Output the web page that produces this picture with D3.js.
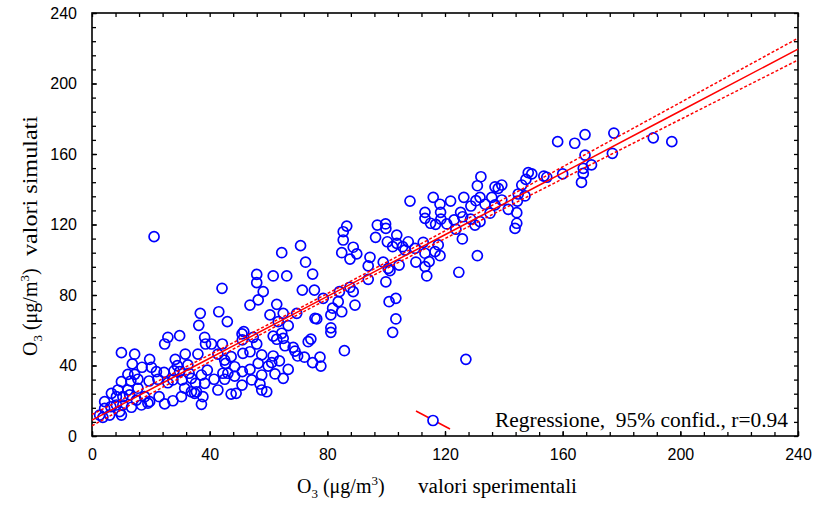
<!DOCTYPE html>
<html>
<head>
<meta charset="utf-8">
<script src="https://cdn.jsdelivr.net/npm/d3@7"></script>
<style>
  body { margin: 0; background: #fff; }
</style>
</head>
<body>
<div id="chart"></div>
<script>

const xTicks = [0, 40, 80, 120, 160, 200, 240]
const yTicks = [0, 40, 80, 120, 160, 200, 240]

// regression line and 95% band, read at the major ticks
const fitX = [0, 40, 80, 120, 160, 200, 240]
const fitY = [9.0, 44.1, 79.2, 114.2, 149.3, 184.4, 219.5]
const bandUpper = [12.2, 46.1, 80.8, 116.4, 152.7, 189.2, 225.7]
const bandLower = [5.8, 42.1, 77.6, 112.0, 145.9, 179.6, 213.3]

const legendText = "Regressione,\u00a0 95% confid., r=0.94"
const xTitle = "valori sperimentali"
const yTitle = "valori simulati"

// [valori sperimentali, valori simulati]
const points = [
  [10.0,47.3],[14.5,46.4],[24.7,52.2],[25.8,56.0],[29.8,56.9],[38.3,56.0],[38.6,52.2],[40.6,52.2],
  [44.3,52.2],[31.7,46.5],[36.0,46.5],[42.8,46.5],[51.0,57.9],[51.1,54.5],[45.1,43.1],[45.4,41.2],
  [47.3,45.0],[51.3,46.9],[48.5,39.3],[13.7,40.9],[17.0,39.0],[19.6,43.5],[20.2,39.0],[21.9,36.5],
  [24.5,36.1],[28.3,43.5],[29.0,39.9],[32.6,40.3],[27.9,37.0],[29.8,36.5],[33.0,35.6],[33.8,32.7],
  [35.2,29.9],[38.3,29.9],[37.2,34.6],[39.2,37.4],[41.5,32.2],[46.2,35.6],[44.5,35.6],[48.5,34.0],
  [51.1,36.5],[12.2,35.0],[14.5,35.0],[15.6,32.2],[10.0,30.8],[13.2,31.2],[19.4,31.2],[22.4,32.2],
  [25.8,30.2],[27.5,31.8],[30.6,31.8],[31.5,27.1],[33.8,25.1],[35.5,25.1],[37.7,22.3],[37.2,18.0],
  [34.9,24.2],[30.4,22.3],[27.5,20.0],[24.7,18.2],[19.6,19.5],[22.8,22.3],[17.9,22.3],[15.6,27.1],
  [12.2,26.1],[8.8,26.1],[6.6,24.2],[8.3,22.3],[10.5,22.3],[12.8,23.3],[15.1,20.4],[16.8,17.6],
  [19.0,18.6],[10.5,17.6],[8.3,17.6],[4.3,19.5],[4.3,15.7],[6.4,16.6],[2.6,11.9],[3.7,10.6],
  [6.0,11.9],[10.0,11.9],[9.4,13.8],[13.4,16.3],[42.8,26.1],[47.3,23.8],[49.0,24.2],[51.0,28.9],
  [45.1,32.2],
  [21.1,113.1],[44.2,83.8],[36.3,62.8],[36.8,69.6],[43.1,70.5],[46.0,64.9],[51.6,59.2],
  [56.0,91.7],[56.0,87.0],[61.6,90.8],[66.2,90.8],[75.0,91.9],[64.5,104.0],[84.9,104.0],[90.0,103.3],
  [87.7,100.4],[94.5,101.4],[72.6,98.6],[93.9,96.5],[99.0,98.6],[100.7,95.1],[104.4,97.0],[58.2,81.9],
  [56.5,77.2],[53.7,74.3],[62.8,74.7],[71.5,82.8],[75.6,82.8],[78.6,78.1],[84.1,81.9],[87.7,84.4],
  [88.8,81.9],[93.9,88.9],[99.9,87.5],[101.0,76.2],[103.3,78.1],[60.5,68.7],[65.0,69.6],[69.6,69.6],
  [63.3,64.9],[66.7,62.6],[75.8,66.8],[76.4,66.4],[81.2,68.7],[81.8,72.5],[83.7,76.2],[84.9,70.5],
  [89.4,74.3],[103.3,66.4],[102.2,58.8],[81.2,61.4],[81.2,58.8],[54.8,56.0],[61.6,56.7],
  [64.5,58.3],[62.8,54.9],[65.0,55.4],[56.0,52.2],[65.6,51.2],[73.5,53.5],[74.4,55.0],[68.4,50.3],
  [69.0,48.2],[69.9,45.4],[72.2,44.7],[77.5,44.7],[75.0,41.6],[77.8,39.7],[85.8,48.4],[53.7,47.8],
  [57.7,46.0],[61.6,45.4],[63.7,42.6],[59.9,39.7],[61.1,41.6],[66.7,37.8],[62.2,35.2],[65.0,32.7],
  [53.7,37.8],[56.5,41.2],[57.7,34.6],[54.3,31.8],[57.1,29.5],[57.7,26.1],[59.4,25.1],
  [86.6,119.1],[85.4,115.9],[85.4,111.2],[88.8,107.1],[97.0,119.7],[99.8,120.3],[99.9,117.8],[96.4,112.7],
  [100.4,110.2],[102.2,107.4],[103.6,114.0],[103.6,109.3],[70.9,108.0],[105.6,107.4],[101.3,93.8],
  [148.3,149.4],[149.5,148.7],[132.2,147.1],[131.0,142.0],[137.0,141.4],[139.3,142.4],[138.1,140.5],[146.1,142.4],
  [147.5,145.6],[144.9,137.3],[147.2,136.2],[108.1,133.3],[116.0,135.4],[118.3,131.5],[121.9,133.3],[126.4,135.4],
  [131.9,135.4],[130.5,133.5],[128.8,130.5],[133.6,131.5],[135.9,135.4],[137.0,131.1],[139.3,133.9],[141.5,128.6],
  [144.4,126.7],[144.6,133.3],[113.2,126.9],[113.2,123.5],[118.5,126.9],[118.6,123.0],[115.1,120.7],[116.8,120.1],
  [120.6,120.3],[123.1,122.6],[125.3,126.9],[126.0,124.4],[128.7,123.1],[130.2,119.7],[131.9,121.6],[135.3,126.4],
  [144.4,120.7],[143.8,117.8],[125.9,111.8],[123.7,117.3],[107.5,110.2],[112.6,109.9],[117.7,108.4],[109.8,106.5],
  [106.4,105.5],[110.1,98.7],[113.2,103.7],[114.6,98.9],[118.3,102.3],[116.6,104.6],[113.2,96.1],[113.8,90.8],
  [131.0,102.3],[124.7,92.9],[127.1,43.5],
  [158.3,167.0],[164.1,166.1],[167.6,171.0],[177.4,171.9],[190.8,169.2],[197.1,167.0],[167.6,159.4],[176.9,160.4],
  [169.8,153.8],[167.0,151.9],[167.0,149.0],[166.4,143.9],[160.0,148.7],[153.6,147.5],[154.6,146.8]
]

const width = 813
const height = 510
const margin = { top: 13, right: 15, bottom: 74, left: 92 }
const serif = "Liberation Serif, Times New Roman, serif"

const svg = d3.select("#chart")
    .append("svg")
    .attr("width", width)
    .attr("height", height)

const x = d3.scaleLinear()
    .domain([0, 240])
    .range([margin.left, width - margin.right])

const y = d3.scaleLinear()
    .domain([0, 240])
    .range([height - margin.bottom, margin.top])

const minor = d3.range(0, 241, 8)

// axes - ticks point inward on all four sides
function styleAxis(g) {
    g.select(".domain").remove()
    g.selectAll(".tick line").attr("stroke", "#000").attr("stroke-width", 1.3)
    g.selectAll("text")
        .attr("font-family", "Liberation Sans, Arial, sans-serif")
        .attr("font-size", 16)
        .attr("fill", "#000")
}

svg.append("g")
    .attr("transform", `translate(0,${y(0)})`)
    .call(d3.axisBottom(x).tickValues(minor).tickSizeInner(-4).tickSizeOuter(0).tickFormat(""))
    .call(styleAxis)

svg.append("g")
    .attr("transform", `translate(0,${y(0)})`)
    .call(d3.axisBottom(x).tickValues(xTicks).tickSizeInner(-5).tickSizeOuter(0).tickPadding(13))
    .call(styleAxis)

svg.append("g")
    .attr("transform", `translate(0,${y(240)})`)
    .call(d3.axisTop(x).tickValues(minor).tickSizeInner(-4).tickSizeOuter(0).tickFormat(""))
    .call(styleAxis)

svg.append("g")
    .attr("transform", `translate(${x(0)},0)`)
    .call(d3.axisLeft(y).tickValues(minor).tickSizeInner(-4).tickSizeOuter(0).tickFormat(""))
    .call(styleAxis)

svg.append("g")
    .attr("transform", `translate(${x(0)},0)`)
    .call(d3.axisLeft(y).tickValues(yTicks).tickSizeInner(-5).tickSizeOuter(0).tickPadding(15))
    .call(styleAxis)

svg.append("g")
    .attr("transform", `translate(${x(240)},0)`)
    .call(d3.axisRight(y).tickValues(minor).tickSizeInner(-4).tickSizeOuter(0).tickFormat(""))
    .call(styleAxis)

// frame
svg.append("rect")
    .attr("x", x(0))
    .attr("y", y(240))
    .attr("width", x(240) - x(0))
    .attr("height", y(0) - y(240))
    .attr("fill", "none")
    .attr("stroke", "#000")
    .attr("stroke-width", 1.6)

// points
svg.append("g")
    .selectAll("circle")
    .data(points)
    .join("circle")
    .attr("cx", d => x(d[0]))
    .attr("cy", d => y(d[1]))
    .attr("r", 5)
    .attr("fill", "none")
    .attr("stroke", "#0000ff")
    .attr("stroke-width", 1.7)

// regression
const fitLine = d3.line()
    .x((d, i) => x(fitX[i]))
    .y(d => y(d))
    .curve(d3.curveNatural)

svg.append("path")
    .attr("d", fitLine(fitY))
    .attr("fill", "none")
    .attr("stroke", "#ff0000")
    .attr("stroke-width", 1.5)

svg.selectAll(".band")
    .data([bandUpper, bandLower])
    .join("path")
    .attr("class", "band")
    .attr("d", fitLine)
    .attr("fill", "none")
    .attr("stroke", "#ff0000")
    .attr("stroke-width", 1.5)
    .attr("stroke-dasharray", "3,2")

// legend
const legend = svg.append("g")

legend.append("line")
    .attr("x1", 416).attr("y1", 411)
    .attr("x2", 450).attr("y2", 429)
    .attr("stroke", "#ff0000")
    .attr("stroke-width", 1.5)

legend.append("circle")
    .attr("cx", 433).attr("cy", 420.5)
    .attr("r", 5)
    .attr("fill", "#fff")
    .attr("stroke", "#0000ff")
    .attr("stroke-width", 1.7)

legend.append("text")
    .attr("x", 495)
    .attr("y", 427)
    .attr("font-family", serif)
    .attr("font-size", 20)
    .attr("textLength", 293)
    .attr("lengthAdjust", "spacingAndGlyphs")
    .text(legendText)

// axis titles: O3 (ug/m3) with sub/superscript, then the description
function ozoneLabel(sel) {
    sel.append("tspan").text("O")
    sel.append("tspan").attr("font-size", 13).attr("dy", 5).text("3")
    sel.append("tspan").attr("dy", -5).text(" (\u03bcg/m")
    sel.append("tspan").attr("font-size", 13).attr("dy", -8).text("3")
    sel.append("tspan").attr("dy", 8).text(")")
}

svg.append("text")
    .attr("x", 297)
    .attr("y", 493)
    .attr("font-family", serif)
    .attr("font-size", 20)
    .call(ozoneLabel)

svg.append("text")
    .attr("x", 418)
    .attr("y", 493)
    .attr("font-family", serif)
    .attr("font-size", 20)
    .attr("textLength", 159)
    .attr("lengthAdjust", "spacingAndGlyphs")
    .text(xTitle)

svg.append("text")
    .attr("transform", "translate(37,356) rotate(-90)")
    .attr("font-family", serif)
    .attr("font-size", 20)
    .call(ozoneLabel)

svg.append("text")
    .attr("transform", "translate(37,256) rotate(-90)")
    .attr("font-family", serif)
    .attr("font-size", 20)
    .attr("textLength", 140)
    .attr("lengthAdjust", "spacingAndGlyphs")
    .text(yTitle)

</script>
</body>
</html>
